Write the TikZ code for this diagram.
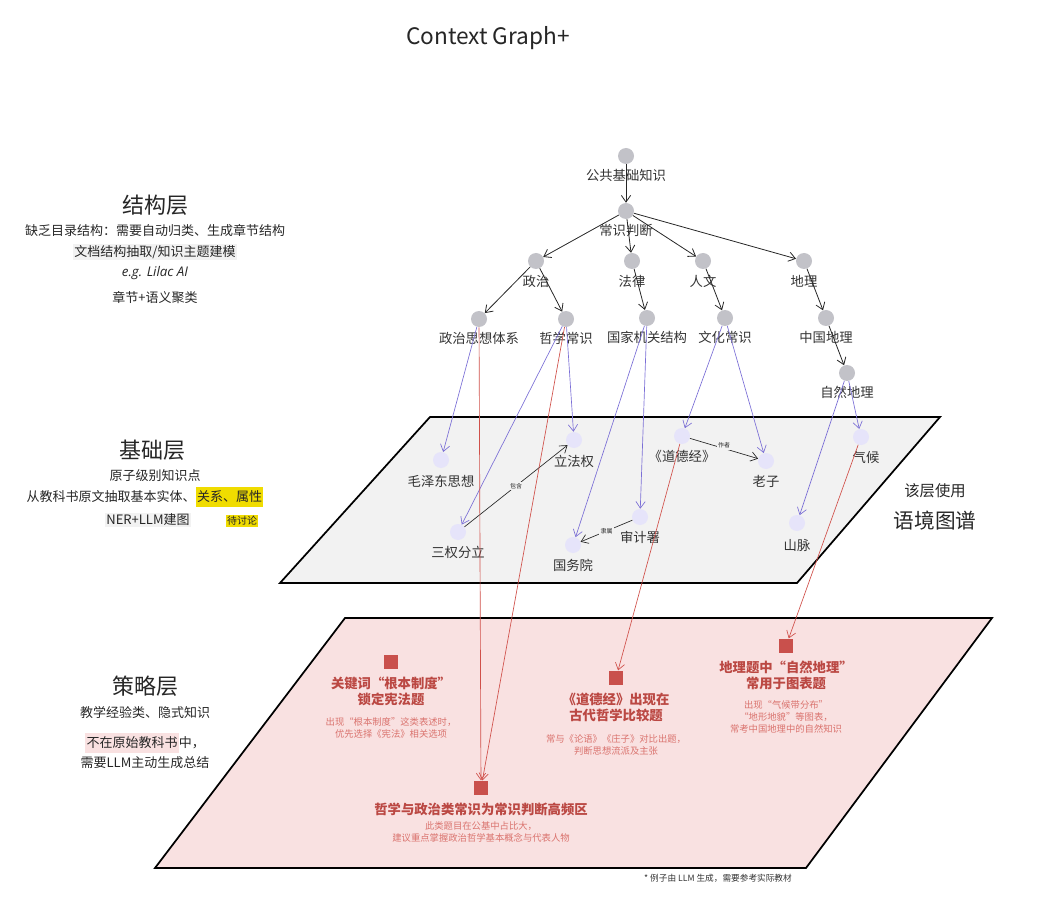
\documentclass[tikz,border=0pt]{standalone}
\usepackage{fontspec}
\setmainfont{Noto Sans CJK SC}
\newfontfamily\latf{Open Sans}
\usetikzlibrary{arrows.meta}
\definecolor{tg}{HTML}{C2C2C8}
\definecolor{lv}{HTML}{E6E4FA}
\definecolor{bl}{HTML}{7B6FD6}
\definecolor{rd}{HTML}{D0504A}
\definecolor{sq}{HTML}{C9504C}
\definecolor{pk}{HTML}{F9E1E1}
\definecolor{yl}{HTML}{F0DC00}
\begin{document}
\begin{tikzpicture}[x=0.75pt,y=-0.75pt,
 tn/.style={circle,fill=tg,minimum size=12pt,inner sep=0pt},
 bn/.style={circle,fill=lv,minimum size=12pt,inner sep=0pt},
 lab/.style={font=\fontsize{10}{11}\selectfont,text=black!80,inner sep=1pt},
 tar/.style={-{Straight Barb[length=5pt,width=7pt]},black!85,line width=0.6pt},
 bar/.style={-{Straight Barb[length=5pt,width=7pt]},bl,line width=0.5pt},
 rar/.style={-{Straight Barb[length=5pt,width=7pt]},rd,line width=0.5pt},
 sqn/.style={rectangle,fill=sq,minimum size=11pt,inner sep=0pt},
 rt/.style={text=rd!90!black,font=\bfseries\fontsize{10}{12.5}\selectfont,align=center},
 rs/.style={text=rd!80,font=\fontsize{7}{9}\selectfont,align=center},
 hd/.style={font=\fontsize{16.5}{18}\selectfont,text=black!85},
 tx/.style={font=\fontsize{9.75}{11}\selectfont,text=black!85,inner sep=1pt}]
\useasboundingbox (0,0) rectangle (1057,909);
% planes
\draw[line width=1.3pt,fill=black!5] (430,417)--(940,417)--(797,583)--(280,583)--cycle;
\draw[line width=1.3pt,fill=pk] (345,618)--(992,618)--(806,868)--(155,868)--cycle;
\node[font=\fontsize{17}{18}\selectfont,text=black!85] (title) at (488,38) {Context Graph+};
% tree
\node[tn] (root) at (626,156) {}; \node[lab] at (626,175) {公共基础知识};
\node[tn] (cs) at (626,211) {}; \node[lab] at (626,230) {常识判断};
\node[tn] (zz) at (536,261) {}; \node[lab] at (536,281) {政治};
\node[tn] (fl) at (632,261) {}; \node[lab] at (632,281) {法律};
\node[tn] (rw) at (703,261) {}; \node[lab] at (703,281) {人文};
\node[tn] (dl) at (804,261) {}; \node[lab] at (804,281) {地理};
\node[tn] (zzsx) at (479,319) {}; \node[lab] at (479,338) {政治思想体系};
\node[tn] (zxcs) at (566,319) {}; \node[lab] at (566,338) {哲学常识};
\node[tn] (gjjg) at (647,318) {}; \node[lab] at (647,337) {国家机关结构};
\node[tn] (whcs) at (725,318) {}; \node[lab] at (725,337) {文化常识};
\node[tn] (zgdl) at (826,318) {}; \node[lab] at (826,337) {中国地理};
\node[tn] (zrdl) at (847,373) {}; \node[lab] at (847,392) {自然地理};
\draw[tar] (root) -- (cs);
\draw[tar] (cs) -- (zz); \draw[tar] (cs) -- (fl); \draw[tar] (cs) -- (rw); \draw[tar] (cs) -- (dl);
\draw[tar] (zz) -- (zzsx); \draw[tar] (zz) -- (zxcs); \draw[tar] (fl) -- (gjjg);
\draw[tar] (rw) -- (whcs); \draw[tar] (dl) -- (zgdl); \draw[tar] (zgdl) -- (zrdl);
% base nodes
\node[bn] (mzd) at (441,460) {}; \node[lab] at (441,481) {毛泽东思想};
\node[bn] (lfq) at (574,440) {}; \node[lab] at (574,461) {立法权};
\node[bn] (sqfl) at (458,532) {}; \node[lab] at (458,552) {三权分立};
\node[bn] (gwy) at (573,545) {}; \node[lab] at (573,565) {国务院};
\node[bn] (sjs) at (640,517) {}; \node[lab] at (640,537) {审计署};
\node[bn] (ddj) at (682,436) {}; \node[lab] at (682,456) {《道德经》};
\node[bn] (lz) at (766,461) {}; \node[lab] at (766,481) {老子};
\node[bn] (qh) at (861,437) {}; \node[lab] at (866,457) {气候};
\node[bn] (sm) at (797,523) {}; \node[lab] at (797,545) {山脉};
\foreach \a/\b in {zzsx/mzd,zxcs/sqfl,zxcs/lfq,gjjg/gwy,gjjg/sjs,whcs/ddj,whcs/lz,zrdl/sm,zrdl/qh}
  \draw[bar] (\a) -- (\b);
\draw[tar,line width=0.5pt] (sqfl) -- node[fill=black!5,font=\fontsize{4.5}{5}\selectfont,inner sep=1pt]{包含} (lfq);
\draw[tar,line width=0.5pt] (ddj) -- node[fill=black!5,font=\fontsize{4.5}{5}\selectfont,inner sep=1pt,above=-1pt]{作者} (lz);
\draw[tar,line width=0.5pt] (sjs) -- node[fill=black!5,font=\fontsize{4.5}{5}\selectfont,inner sep=1pt]{隶属} (gwy);
% strategy
\node[sqn] (s1) at (391,662) {};
\node[rt,anchor=north] at (391,672) {关键词“根本制度”\\锁定宪法题};
\node[rs,anchor=north] at (391,713) {出现“根本制度”这类表述时，\\优先选择《宪法》相关选项};
\node[sqn] (s2) at (616,678) {};
\node[rt,anchor=north] at (616,688) {《道德经》出现在\\古代哲学比较题};
\node[rs,anchor=north] at (616,730) {常与《论语》《庄子》对比出题，\\判断思想流派及主张};
\node[sqn] (s3) at (786,646) {};
\node[rt,anchor=north] at (786,656) {地理题中“自然地理”\\常用于图表题};
\node[rs,anchor=north] at (786,696) {出现“气候带分布”\\“地形地貌”等图表，\\常考中国地理中的自然知识};
\node[sqn] (s4) at (481,788) {};
\node[rt,anchor=north] at (481,798) {哲学与政治类常识为常识判断高频区};
\node[rs,anchor=north] at (481,817) {此类题目在公基中占比大，\\建议重点掌握政治哲学基本概念与代表人物};
\draw[rar] (zzsx) -- (s4);
\draw[rar] (zxcs) -- (s4);
\draw[rar] (ddj) -- (s2);
\draw[rar] (qh) -- (s3);
\node[font=\fontsize{6.5}{7}\selectfont,text=black!80] (fn) at (718,878) {* 例子由 LLM 生成，需要参考实际教材};
% left texts
\node[hd] (h1) at (155,205) {结构层};
\node[tx] at (155,231) {缺乏目录结构：需要自动归类、生成章节结构};
\node[tx,fill=black!5] at (155,252) {文档结构抽取/知识主题建模};
\node[tx,font=\latf\itshape\fontsize{10}{11}\selectfont] at (155,273) {e.g. Lilac AI};
\node[tx] at (155,298) {章节+语义聚类};
\node[hd] (h2) at (152,450) {基础层};
\node[tx] at (155,476) {原子级别知识点};
\node[tx] at (145,497) {从教科书原文抽取基本实体、\colorbox{yl}{\kern-2pt 关系、属性\kern-2pt}};
\node[tx,fill=black!5] at (148,520) {NER+LLM建图};
\node[tx,fill=yl,font=\fontsize{7.5}{8}\selectfont] at (242,521) {待讨论};
\node[hd] (h3) at (145,686) {策略层};
\node[tx] at (145,713) {教学经验类、隐式知识};
\node[tx] at (145,743) {\colorbox{pk}{\kern-2pt 不在原始教科书\kern-2pt}中，};
\node[tx] at (145,763) {需要LLM主动生成总结};
\node[tx,font=\fontsize{11.5}{13}\selectfont] at (935,491) {该层使用};
\node[tx,font=\fontsize{15.5}{17}\selectfont] at (935,521) {语境图谱};
\end{tikzpicture}
\end{document}
